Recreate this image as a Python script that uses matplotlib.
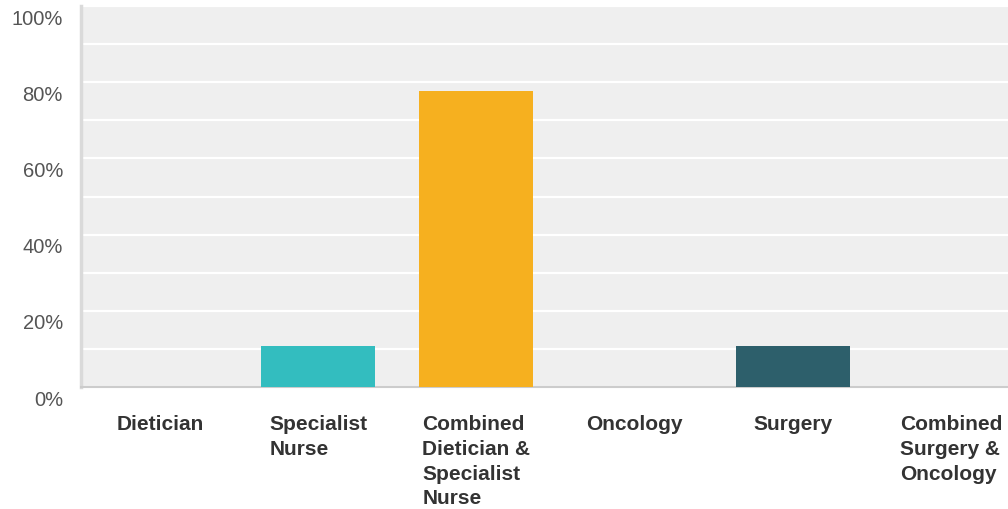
import matplotlib
matplotlib.use('Agg')
import matplotlib.pyplot as plt
import numpy as np
from matplotlib.ticker import MultipleLocator
import matplotlib.transforms as mtransforms

plt.rcParams['font.family'] = ['Liberation Sans', 'DejaVu Sans']

categories = ['Dietician', 'Specialist\nNurse', 'Combined\nDietician &\nSpecialist\nNurse',
              'Oncology', 'Surgery', 'Combined\nSurgery &\nOncology']
values = [0.0, 10.8, 77.78, 0.0, 10.8, 0.0]
colors = ['#5fb3d9', '#33bdbf', '#f6b01f', '#e2572a', '#2d5f6b', '#8a6fae']
yticks = [0, 20, 40, 60, 80, 100]

W, H = 1008, 509
fig = plt.figure(figsize=(W / 100, H / 100), dpi=100)
ax = fig.add_axes([81 / W, 1 - 387 / H, (1030 - 81) / W, (387 - 6) / H])
ax.set_facecolor('#efefef')

x = np.arange(len(categories))
ax.bar(x, values, width=0.72, color=colors, edgecolor='none', zorder=3)

ax.set_xlim(-0.5, len(categories) - 0.5)
ax.set_ylim(0, 100)
ax.yaxis.set_minor_locator(MultipleLocator(10))
ax.set_yticks(yticks)
ax.set_yticklabels(['{}%'.format(t) for t in yticks])
ax.grid(axis='y', which='both', color='white', linewidth=1.6, zorder=1)
ax.tick_params(axis='y', which='both', length=0, pad=13,
               labelsize=14.5, labelcolor='#555555')
offset = mtransforms.ScaledTranslation(0, -8 / 72, fig.dpi_scale_trans)
for lab in ax.get_yticklabels():
    lab.set_transform(lab.get_transform() + offset)

ax.set_xticks([])
for i, c in enumerate(categories):
    ax.text(i, -7.4, c, ha='center', va='top', multialignment='left',
            fontsize=15, fontweight='bold', color='#333333',
            linespacing=1.38, clip_on=False)

for s in ['top', 'right']:
    ax.spines[s].set_visible(False)
ax.spines['left'].set_color('#dadada')
ax.spines['left'].set_linewidth(2.5)
ax.spines['bottom'].set_color('#cccccc')
ax.spines['bottom'].set_linewidth(1.5)

fig.savefig('out.png', dpi=100)
